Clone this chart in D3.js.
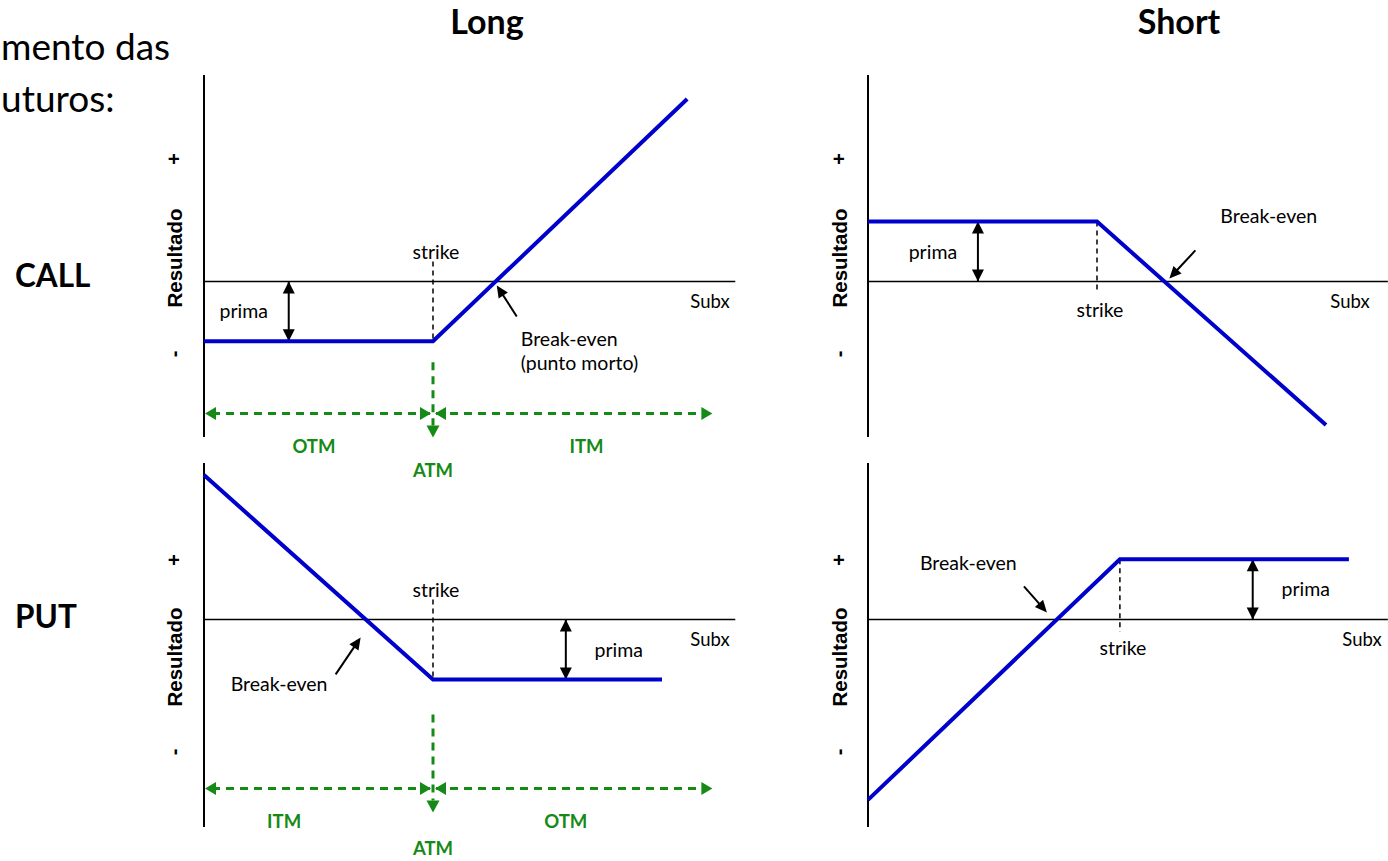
<!DOCTYPE html>
<html>
<head>
<meta charset="utf-8">
<script src="https://cdn.jsdelivr.net/npm/d3@7"></script>
<style>
  body { margin: 0; background: #fff; }
  svg text { font-family: Lato, "Open Sans", sans-serif; }
</style>
</head>
<body>
<svg id="chart" width="1388" height="861"></svg>
<script>
// ---- data -------------------------------------------------------------
const columns = ["Long", "Short"];
const rows = ["CALL", "PUT"];
const headerLines = ["mento das", "uturos:"];

// payoff vertices: [underlying price, result]
const longCall  = [[0, -20], [100, -20], [211, 61]];
const shortCall = [[0, 20], [100, 20], [200, -48]];
const longPut   = [[0, 48], [100, -20], [200, -20]];
const shortPut  = [[0, -60], [110, 20], [210, 20]];

const strikes = [100, 100, 100, 110];
const premium = 20;
const premiumArrowAt = [37, 48, 158, 168];

const moneyness = [["OTM", "ITM"], ["ITM", "OTM"]];
const moneynessLabelAt = [[48, 167], [35, 158]];
const moneynessSpan = [0, 222];
const atmLabel = "ATM";

const yLabel = "Resultado";
const xLabel = "Subx";
const plusLabel = "+";
const minusLabel = "-";
const strikeLabel = "strike";
const premiumLabel = "prima";
const breakEvenLabels = [["Break-even", "(punto morto)"], ["Break-even"], ["Break-even"], ["Break-even"]];

// ---- layout -----------------------------------------------------------
const BLUE = "#0000cc", GREEN = "#168a16";
const LABEL_SIZE = 19.5;
const colX = [204, 868];
const rowRange = [[437, 75], [827, 463]];
const rowDomain = [[-52, 69], [-69, 52]];
const axisEnd = [232, 227];

const svg = d3.select("#chart");

const panels = [
  { r: 0, c: 0, data: longCall,  long: true,
    be: { tip: [1, 4], tail: [21, 35], label: [25, 65] } },
  { r: 0, c: 1, data: shortCall, long: false,
    be: { tip: [5, -3], tail: [31, -31], label: [56, -58] } },
  { r: 1, c: 0, data: longPut,   long: true,
    be: { tip: [-5, 18], tail: [-30, 55], label: [-135, 72] } },
  { r: 1, c: 1, data: shortPut,  long: false,
    be: { tip: [-10, -7], tail: [-33, -33], label: [-137, -49] } }
];

function triangle(g, tip, angle, len, half, fill) {
  const a = angle;
  const bx = tip[0] - len * Math.cos(a), by = tip[1] - len * Math.sin(a);
  const px = -Math.sin(a) * half, py = Math.cos(a) * half;
  g.append("path")
    .attr("d", `M${tip[0]},${tip[1]}L${bx + px},${by + py}L${bx - px},${by - py}Z`)
    .attr("fill", fill);
}

// column titles
svg.selectAll("text.col").data(columns).join("text")
  .attr("class", "col")
  .attr("x", (d, i) => [487, 1179][i]).attr("y", 34)
  .attr("text-anchor", "middle")
  .attr("font-size", 34).attr("font-weight", 700)
  .text(d => d);

// row titles
svg.selectAll("text.row").data(rows).join("text")
  .attr("class", "row")
  .attr("x", 15).attr("y", (d, i) => [287, 628][i])
  .attr("font-size", 31.5).attr("font-weight", 700)
  .text(d => d);

// header fragment at the top-left corner
svg.selectAll("text.head").data(headerLines).join("text")
  .attr("class", "head")
  .attr("x", 1).attr("y", (d, i) => [60, 112][i])
  .attr("font-size", 37)
  .text(d => d);

panels.forEach((p, idx) => {
  const g = svg.append("g");
  const x0 = colX[p.c];
  const x = d3.scaleLinear().domain([0, 100]).range([x0, x0 + 229]);
  const y = d3.scaleLinear().domain(rowDomain[p.r]).range(rowRange[p.r]);
  const zy = y(0);
  const strike = strikes[idx];
  const sx = x(strike);
  const flatY = y(p.long ? -premium : premium);
  const kinkY = y(p.data[1][1]);

  // vertical result axis
  g.append("line")
    .attr("x1", x0).attr("x2", x0)
    .attr("y1", rowRange[p.r][1]).attr("y2", rowRange[p.r][0])
    .attr("stroke", "#000").attr("stroke-width", 2);

  // zero axis
  g.append("line")
    .attr("x1", x0).attr("x2", x(axisEnd[p.c]))
    .attr("y1", zy).attr("y2", zy)
    .attr("stroke", "#000").attr("stroke-width", 1.5);

  // axis labels
  const ly = p.r === 0 ? 258 : 657;
  const lx = p.c === 0 ? 175 : 840;
  g.append("text")
    .attr("transform", `translate(${lx + 7},${ly}) rotate(-90)`)
    .attr("text-anchor", "middle")
    .style("font-family", "'Liberation Sans', Arial, sans-serif")
    .attr("font-size", 20.5).attr("font-weight", 700)
    .text(yLabel);
  const plusY = p.r === 0 ? 159 : 560;
  const minusY = p.r === 0 ? 354 : 752;
  g.append("text")
    .attr("transform", `translate(${lx + 6},${plusY}) rotate(-90)`)
    .attr("text-anchor", "middle")
    .style("font-family", "'Liberation Sans', Arial, sans-serif")
    .attr("font-size", 20).attr("font-weight", 700)
    .text(plusLabel);
  g.append("text")
    .attr("transform", `translate(${lx + 6},${minusY}) rotate(-90)`)
    .attr("text-anchor", "middle")
    .style("font-family", "'Liberation Sans', Arial, sans-serif")
    .attr("font-size", 20).attr("font-weight", 700)
    .text(minusLabel);
  g.append("text")
    .attr("x", p.c === 0 ? 710 : (p.r === 0 ? 1350 : 1362)).attr("y", zy + 27)
    .attr("text-anchor", "middle").attr("font-size", 18.5)
    .text(xLabel);

  // strike marker
  const dashTop = p.long ? zy - 20 : kinkY;
  const dashBot = p.long ? kinkY : zy + 12;
  g.append("line")
    .attr("x1", sx).attr("x2", sx).attr("y1", dashTop).attr("y2", dashBot)
    .attr("stroke", "#000").attr("stroke-width", 1.5)
    .attr("stroke-dasharray", "5,4");
  g.append("text")
    .attr("x", sx + 3).attr("y", p.long ? zy - 22 : zy + 36)
    .attr("text-anchor", "middle").attr("font-size", LABEL_SIZE)
    .text(strikeLabel);

  // premium double arrow
  const ax = x(premiumArrowAt[idx]);
  g.append("line")
    .attr("x1", ax).attr("x2", ax).attr("y1", zy).attr("y2", flatY)
    .attr("stroke", "#000").attr("stroke-width", 2);
  const dir = flatY > zy ? 1 : -1;
  triangle(g, [ax, zy], dir > 0 ? -Math.PI / 2 : Math.PI / 2, 12, 6, "#000");
  triangle(g, [ax, flatY], dir > 0 ? Math.PI / 2 : -Math.PI / 2, 12, 6, "#000");
  const pxOff = p.r === 0 ? -45 : 53;
  g.append("text")
    .attr("x", ax + pxOff).attr("y", (zy + flatY) / 2 + 7)
    .attr("text-anchor", "middle").attr("font-size", LABEL_SIZE)
    .text(premiumLabel);

  // payoff line
  const line = d3.line().x(d => x(d[0])).y(d => y(d[1]));
  g.append("path")
    .datum(p.data)
    .attr("d", line)
    .attr("fill", "none").attr("stroke", BLUE).attr("stroke-width", 4);

  // break-even: where the sloped leg crosses zero
  const seg = p.data[0][1] * p.data[1][1] < 0 ? [p.data[0], p.data[1]] : [p.data[1], p.data[2]];
  const bePrice = seg[0][0] + (0 - seg[0][1]) * (seg[1][0] - seg[0][0]) / (seg[1][1] - seg[0][1]);
  const bx = x(bePrice), by = zy;
  const tip = [bx + p.be.tip[0], by + p.be.tip[1]];
  const tail = [bx + p.be.tail[0], by + p.be.tail[1]];
  const ang = Math.atan2(tip[1] - tail[1], tip[0] - tail[0]);
  g.append("line")
    .attr("x1", tail[0]).attr("y1", tail[1])
    .attr("x2", tip[0] - 6 * Math.cos(ang)).attr("y2", tip[1] - 6 * Math.sin(ang))
    .attr("stroke", "#000").attr("stroke-width", 2);
  triangle(g, tip, ang, 12, 5.5, "#000");
  breakEvenLabels[idx].forEach((t, k) => {
    g.append("text")
      .attr("x", bx + p.be.label[0]).attr("y", by + p.be.label[1] + k * 24)
      .attr("font-size", LABEL_SIZE)
      .text(t);
  });

  // moneyness guide under the long positions
  if (p.long) {
    const gy = zy + (p.r === 0 ? 132 : 169);
    const vTop = flatY + 21 + (p.r === 0 ? 0 : 14);
    g.append("line")
      .attr("x1", sx).attr("x2", sx).attr("y1", vTop).attr("y2", gy + 12)
      .attr("stroke", GREEN).attr("stroke-width", 3).attr("stroke-dasharray", "8,6");
    g.append("line")
      .attr("x1", x(moneynessSpan[0]) + 8).attr("x2", x(moneynessSpan[1]) - 8)
      .attr("y1", gy).attr("y2", gy)
      .attr("stroke", GREEN).attr("stroke-width", 3).attr("stroke-dasharray", "8,6");
    triangle(g, [x(moneynessSpan[0]) + 1, gy], Math.PI, 11, 6.5, GREEN);
    triangle(g, [x(moneynessSpan[1]), gy], 0, 11, 6.5, GREEN);
    triangle(g, [sx - 2, gy], 0, 11, 6.5, GREEN);
    triangle(g, [sx + 2, gy], Math.PI, 11, 6.5, GREEN);
    triangle(g, [sx, gy + 24], Math.PI / 2, 12, 6.5, GREEN);
    const labY = gy + 40;
    moneyness[p.r].forEach((t, k) => {
      g.append("text")
        .attr("x", x(moneynessLabelAt[p.r][k])).attr("y", labY)
        .attr("text-anchor", "middle").attr("font-size", 18.5).attr("font-weight", 700)
        .attr("fill", GREEN)
        .text(t);
    });
    g.append("text")
      .attr("x", sx).attr("y", gy + (p.r === 0 ? 64 : 67))
      .attr("text-anchor", "middle").attr("font-size", 18.5).attr("font-weight", 700)
      .attr("fill", GREEN)
      .text(atmLabel);
  }
});
</script>
</body>
</html>
